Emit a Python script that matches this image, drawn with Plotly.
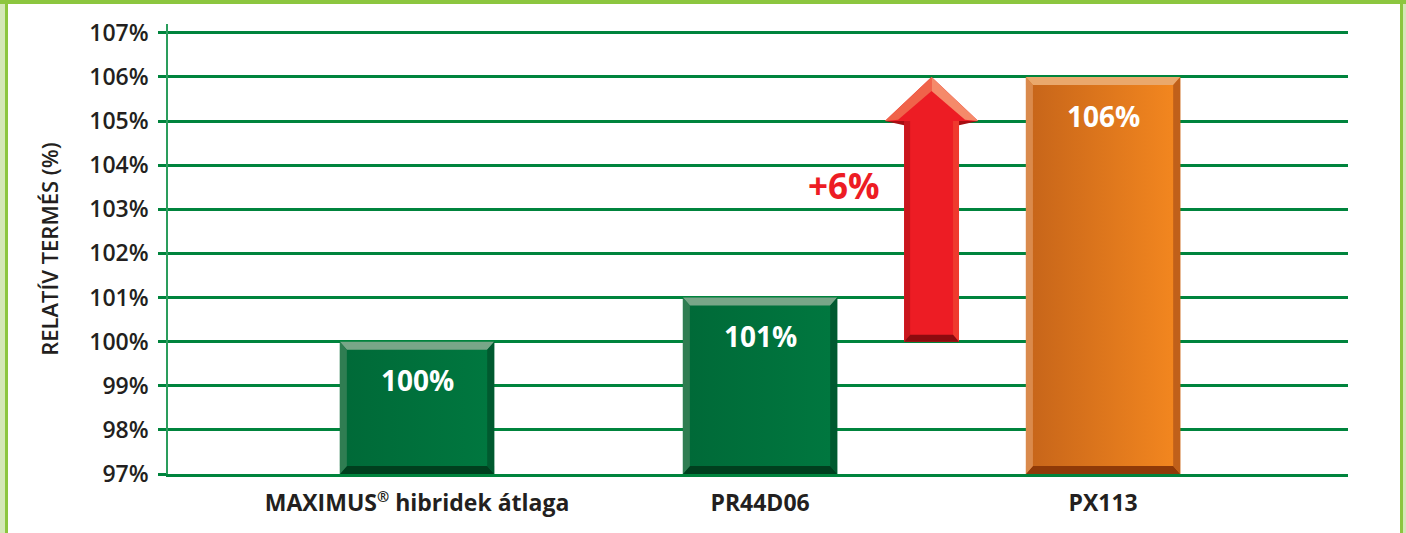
import plotly.graph_objects as go

# ---- data ----
categories = ["MAXIMUS<span style=\"font-size:21px\"><sup>®</sup></span> hibridek átlaga", "PR44D06", "PX113"]
values = [100, 101, 106]
value_labels = ["100%", "101%", "106%"]
y_ticks = [97, 98, 99, 100, 101, 102, 103, 104, 105, 106, 107]
y_ticktext = [f"{v}%" for v in y_ticks]
diff_label = "+6%"
y_title = "RELATÍV TERMÉS (%)"

# ---- styling ----
W_IMG, H_IMG = 1406, 533
L, R, T, B = 168, 58, 24, 59
PW, PH = W_IMG - L - R, H_IMG - T - B
YMIN, YMAX = 97, 107.2
XMIN, XMAX = -0.726, 2.714
GRID = "#00843d"
TXT = "#231f20"
FONT = "Open Sans"

bar_w = 0.45
face_cols = [("#006a38", "#00773f"), ("#006a38", "#00773f"), ("#c8661a", "#f2861f")]
bevel_cols = [
    dict(top="#78a688", left="#2f7d52", right="#005a2f", bottom="#003f1e"),
    dict(top="#78a688", left="#2f7d52", right="#005a2f", bottom="#003f1e"),
    dict(top="#eaa86c", left="#da8a4c", right="#c0601a", bottom="#8f3a08"),
]
main_cols = ["#00703c", "#00703c", "#e0761d"]

xs = list(range(len(categories)))
ux = (XMAX - XMIN) / PW  # data per px
uy = (YMAX - YMIN) / PH
dx, dy = 7 * ux, 8 * uy

fig = go.Figure()

fig.add_trace(go.Bar(x=xs, y=[v - YMIN for v in values], base=YMIN, width=bar_w,
                     marker=dict(color=main_cols, line=dict(width=0)),
                     hoverinfo="skip", showlegend=False))


def P(pts):
    return "M " + " L ".join(f"{a},{b}" for a, b in pts) + " Z"


shapes = []
for i, v in enumerate(values):
    x0, x1 = i - bar_w / 2, i + bar_w / 2
    top, base = v, YMIN
    c0, c1 = face_cols[i]
    fig.add_trace(go.Scatter(x=[x0 + dx, x1 - dx, x1 - dx, x0 + dx, x0 + dx],
                             y=[base + dy, base + dy, top - dy, top - dy, base + dy],
                             mode="lines", line=dict(width=0), fill="toself",
                             fillgradient=dict(type="horizontal", colorscale=[[0, c0], [1, c1]]),
                             hoverinfo="skip", showlegend=False))
    bc = bevel_cols[i]
    shapes += [
        dict(type="path", path=P([(x0, top), (x1, top), (x1 - dx, top - dy), (x0 + dx, top - dy)]),
             fillcolor=bc["top"], line=dict(width=0), layer="above"),
        dict(type="path", path=P([(x0, base), (x1, base), (x1 - dx, base + dy), (x0 + dx, base + dy)]),
             fillcolor=bc["bottom"], line=dict(width=0), layer="above"),
        dict(type="path", path=P([(x0, base), (x0, top), (x0 + dx, top - dy), (x0 + dx, base + dy)]),
             fillcolor=bc["left"], line=dict(width=0), layer="above"),
        dict(type="path", path=P([(x1, base), (x1, top), (x1 - dx, top - dy), (x1 - dx, base + dy)]),
             fillcolor=bc["right"], line=dict(width=0), layer="above"),
    ]

# ---- arrow from first value to last value ----
ax_c = 1.5
a_base, a_tip = values[0], values[-1]
shaft_hw, head_hw, head_h = 0.08, 0.136, 1.0
head_base = a_tip - head_h
arrow = [(ax_c - shaft_hw, a_base), (ax_c + shaft_hw, a_base), (ax_c + shaft_hw, head_base),
         (ax_c + head_hw, head_base), (ax_c, a_tip), (ax_c - head_hw, head_base),
         (ax_c - shaft_hw, head_base), (ax_c - shaft_hw, a_base)]
fig.add_trace(go.Scatter(x=[p[0] for p in arrow], y=[p[1] for p in arrow], mode="lines",
                         line=dict(width=0), fill="toself", fillcolor="#ed1c24",
                         hoverinfo="skip", showlegend=False))
adx = 6 * ux
ady = 7 * uy
shapes += [
    dict(type="path", path=P([(ax_c - shaft_hw, a_base), (ax_c - shaft_hw + adx, a_base + ady),
                              (ax_c - shaft_hw + adx, head_base), (ax_c - shaft_hw, head_base)]),
         fillcolor="#c9161d", line=dict(width=0), layer="above"),
    dict(type="path", path=P([(ax_c + shaft_hw, a_base), (ax_c + shaft_hw - adx, a_base + ady),
                              (ax_c + shaft_hw - adx, head_base), (ax_c + shaft_hw, head_base)]),
         fillcolor="#ef3a2e", line=dict(width=0), layer="above"),
    dict(type="path", path=P([(ax_c - shaft_hw, a_base), (ax_c + shaft_hw, a_base),
                              (ax_c + shaft_hw - adx, a_base + ady), (ax_c - shaft_hw + adx, a_base + ady)]),
         fillcolor="#8c0b0f", line=dict(width=0), layer="above"),
    dict(type="path", path=P([(ax_c - head_hw, head_base), (ax_c, a_tip), (ax_c, a_tip - 2 * ady),
                              (ax_c - head_hw + 2.2 * adx, head_base + 0.2 * ady)]),
         fillcolor="#f0634a", line=dict(width=0), layer="above"),
    dict(type="path", path=P([(ax_c + head_hw, head_base), (ax_c, a_tip), (ax_c, a_tip - 2 * ady),
                              (ax_c + head_hw - 2.2 * adx, head_base + 0.2 * ady)]),
         fillcolor="#f58a6a", line=dict(width=0), layer="above"),
    dict(type="path", path=P([(ax_c - head_hw, head_base), (ax_c - shaft_hw, head_base - 0.6 * ady),
                              (ax_c - shaft_hw, head_base)]),
         fillcolor="#a80d12", line=dict(width=0), layer="above"),
    dict(type="path", path=P([(ax_c + head_hw, head_base), (ax_c + shaft_hw, head_base - 0.6 * ady),
                              (ax_c + shaft_hw, head_base)]),
         fillcolor="#a80d12", line=dict(width=0), layer="above"),
]


# ---- frame border (paper coords from pixels) ----
def px(x):
    return (x - L) / PW


def py(y):
    return (H_IMG - B - y) / PH


shapes += [
    dict(type="rect", xref="paper", yref="paper", x0=px(0), x1=px(5), y0=py(H_IMG), y1=py(0),
         fillcolor="#d4e8b7", line=dict(width=0), layer="below"),
    dict(type="rect", xref="paper", yref="paper", x0=px(5), x1=px(8), y0=py(H_IMG), y1=py(0),
         fillcolor="#8cc63f", line=dict(width=0), layer="below"),
    dict(type="rect", xref="paper", yref="paper", x0=px(1400), x1=px(1403), y0=py(H_IMG), y1=py(0),
         fillcolor="#8cc63f", line=dict(width=0), layer="below"),
    dict(type="rect", xref="paper", yref="paper", x0=px(1403), x1=px(1406), y0=py(H_IMG), y1=py(0),
         fillcolor="#d4e8b7", line=dict(width=0), layer="below"),
    dict(type="rect", xref="paper", yref="paper", x0=px(0), x1=px(1406), y0=py(4), y1=py(0),
         fillcolor="#8cc63f", line=dict(width=0), layer="below"),
]

annotations = []
for i, (v, lab) in enumerate(zip(values, value_labels)):
    annotations.append(dict(x=i, y=v - 0.88, text=lab, showarrow=False,
                            xanchor="center", yanchor="middle",
                            font=dict(family=FONT, size=28, color="white", weight=700)))
annotations.append(dict(x=ax_c - 0.145, y=103.55, text=diff_label, showarrow=False,
                        xanchor="right", yanchor="middle",
                        font=dict(family=FONT, size=35, color="#ed1c24", weight=700)))

fig.update_layout(
    width=W_IMG, height=H_IMG,
    margin=dict(l=L, r=R, t=T, b=B, pad=0),
    paper_bgcolor="white", plot_bgcolor="white",
    showlegend=False,
    shapes=shapes, annotations=annotations,
    font=dict(family=FONT, color=TXT),
    xaxis=dict(range=[XMIN, XMAX], tickmode="array", tickvals=xs,
               ticktext=categories,
               tickfont=dict(family=FONT, size=23, color=TXT, weight=700),
               showgrid=False, zeroline=False, showline=True, linecolor=GRID, linewidth=3,
               ticks="", ticklabelstandoff=6, fixedrange=True),
    yaxis=dict(range=[YMIN, YMAX], tickmode="array", tickvals=y_ticks,
               ticktext=y_ticktext,
               tickfont=dict(family=FONT, size=23, color=TXT, weight=600),
               showgrid=True, gridcolor=GRID, gridwidth=3,
               zeroline=False, showline=True, linecolor="#2a9d5c", linewidth=1.5,
               ticks="outside", ticklen=8, tickwidth=3, tickcolor=GRID,
               ticklabelstandoff=5,
               title=dict(text=y_title, font=dict(family=FONT, size=22, color=TXT, weight=600),
                          standoff=25),
               fixedrange=True),
)

fig.write_html("out.html", config={"displayModeBar": False},
               post_script="document.body.style.margin='0px';document.body.style.padding='0px';")
